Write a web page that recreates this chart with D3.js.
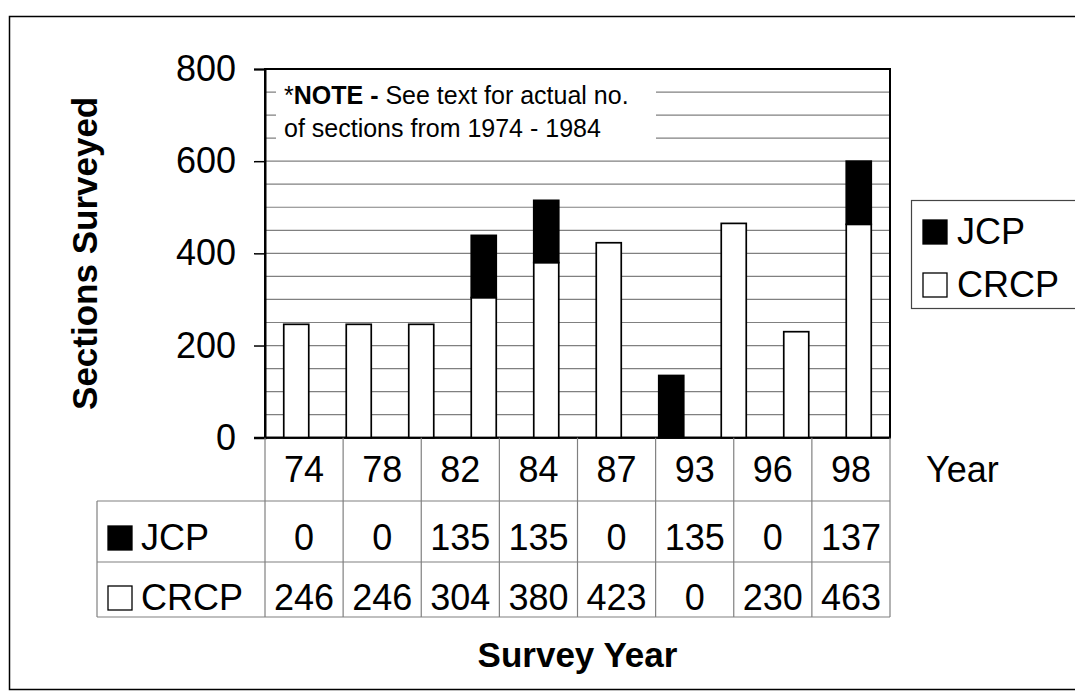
<!DOCTYPE html>
<html>
<head>
<meta charset="utf-8">
<script src="https://cdn.jsdelivr.net/npm/d3@7"></script>
<style>
  body { margin: 0; background: #fff; }
  svg text { font-family: "Liberation Sans", Arial, sans-serif; fill: #000; }
</style>
</head>
<body>
<script>
// bars as drawn in the chart (10 slots)
const barCRCP = [246, 246, 246, 304, 380, 423, 0, 465, 230, 463]
const barJCP = [0, 0, 0, 135, 135, 0, 135, 0, 0, 137]

// data table under the chart
const years = ["74", "78", "82", "84", "87", "93", "96", "98"]
const tableJCP = [0, 0, 135, 135, 0, 135, 0, 137]
const tableCRCP = [246, 246, 304, 380, 423, 0, 230, 463]
const series = ["JCP", "CRCP"]
const yTicks = [0, 200, 400, 600, 800]

const width = 1075, height = 698
const plot = {left: 265, right: 890, top: 69, bottom: 437.7}

const svg = d3.select("body").append("svg")
  .attr("width", width)
  .attr("height", height)

// outer frame
svg.append("rect")
  .attr("x", 9.5).attr("y", 16.5)
  .attr("width", 1080).attr("height", 673)
  .attr("fill", "none").attr("stroke", "#000").attr("stroke-width", 1.5)

const y = d3.scaleLinear().domain([0, 800]).range([plot.bottom, plot.top])
const x = d3.scaleBand()
  .domain(d3.range(barCRCP.length))
  .range([plot.left, plot.right])
  .paddingInner(0.6).paddingOuter(0.3)
const col = d3.scaleBand().domain(years).range([plot.left, plot.right])

// gridlines every 50
svg.append("g").selectAll("line")
  .data(y.ticks(16).filter(d => d > 0 && d < 800))
  .enter().append("line")
  .attr("x1", plot.left).attr("x2", plot.right)
  .attr("y1", d => y(d)).attr("y2", d => y(d))
  .attr("stroke", "#808080").attr("stroke-width", 1.2)

// note box over the gridlines
svg.append("rect")
  .attr("x", 276).attr("y", 80).attr("width", 380).attr("height", 70)
  .attr("fill", "#fff")
const note = svg.append("text").attr("x", 284).attr("y", 104).style("font-size", "25px")
note.append("tspan").text("*")
note.append("tspan").style("font-weight", "bold").text("NOTE -")
note.append("tspan").text(" See text for actual no.")
svg.append("text").attr("x", 284).attr("y", 137).style("font-size", "25px")
  .text("of sections from 1974 - 1984")

// plot area border
svg.append("rect")
  .attr("x", plot.left).attr("y", plot.top)
  .attr("width", plot.right - plot.left).attr("height", plot.bottom - plot.top)
  .attr("fill", "none").attr("stroke", "#000").attr("stroke-width", 2)

// bars: CRCP at bottom (white), JCP on top (black)
const bars = svg.append("g")
bars.selectAll(".crcp")
  .data(barCRCP.map((v, i) => ({i: i, v: v})).filter(d => d.v > 0))
  .enter().append("rect")
  .attr("class", "crcp")
  .attr("x", d => x(d.i)).attr("width", x.bandwidth())
  .attr("y", d => y(d.v)).attr("height", d => y(0) - y(d.v))
  .attr("fill", "#fff").attr("stroke", "#000").attr("stroke-width", 1.7)
bars.selectAll(".jcp")
  .data(barJCP.map((v, i) => ({i: i, v: v, b: barCRCP[i]})).filter(d => d.v > 0))
  .enter().append("rect")
  .attr("class", "jcp")
  .attr("x", d => x(d.i)).attr("width", x.bandwidth())
  .attr("y", d => y(d.b + d.v)).attr("height", d => y(d.b) - y(d.b + d.v))
  .attr("fill", "#000").attr("stroke", "#000").attr("stroke-width", 1.7)

// y axis
const yAxis = d3.axisLeft(y).tickValues(yTicks).tickSize(11).tickPadding(18)
const ya = svg.append("g")
  .attr("transform", "translate(" + plot.left + ",0)")
  .call(yAxis)
ya.select(".domain").attr("stroke-width", 2)
ya.selectAll(".tick line").attr("stroke-width", 1.5)
ya.selectAll(".tick text")
  .style("font-size", "36px")
  .style("font-family", "Liberation Sans, Arial, sans-serif")
  .attr("fill", "#000")

// x baseline
svg.append("line")
  .attr("x1", plot.left - 11).attr("x2", plot.right)
  .attr("y1", y(0)).attr("y2", y(0))
  .attr("stroke", "#000").attr("stroke-width", 2)

// axis title
svg.append("text")
  .attr("transform", "translate(97," + ((plot.top + plot.bottom) / 2) + ") rotate(-90)")
  .attr("text-anchor", "middle")
  .style("font-size", "35px").style("font-weight", "bold")
  .text("Sections Surveyed")

// data table
const rows = [plot.bottom, 501, 562, 617]
const tableLeft = 97
const grid = svg.append("g").attr("stroke", "#808080").attr("stroke-width", 1.2)
// horizontal lines
grid.append("line").attr("x1", tableLeft).attr("x2", plot.right).attr("y1", rows[1]).attr("y2", rows[1])
grid.append("line").attr("x1", tableLeft).attr("x2", plot.right).attr("y1", rows[2]).attr("y2", rows[2])
grid.append("line").attr("x1", tableLeft).attr("x2", plot.right).attr("y1", rows[3]).attr("y2", rows[3])
grid.append("line").attr("x1", tableLeft).attr("x2", tableLeft).attr("y1", rows[1]).attr("y2", rows[3])
// column lines
grid.selectAll(".colline")
  .data(years.map(d => col(d)).concat([plot.right]))
  .enter().append("line")
  .attr("x1", d => d).attr("x2", d => d)
  .attr("y1", rows[0]).attr("y2", rows[3])

// header row
svg.append("g").selectAll("text")
  .data(years).enter().append("text")
  .attr("x", d => col(d) + col.bandwidth() / 2)
  .attr("y", 482)
  .attr("text-anchor", "middle")
  .style("font-size", "36px")
  .text(d => d)
svg.append("text").attr("x", 926).attr("y", 482).style("font-size", "36px").text("Year")

// value rows
const tableRows = [
  {name: series[0], values: tableJCP, fill: "#000", base: 550},
  {name: series[1], values: tableCRCP, fill: "#fff", base: 610}
]
tableRows.forEach(function(r) {
  svg.append("rect")
    .attr("x", 108).attr("y", r.base - 24).attr("width", 24).attr("height", 24)
    .attr("fill", r.fill).attr("stroke", "#000").attr("stroke-width", 1.3)
  svg.append("text").attr("x", 141).attr("y", r.base)
    .style("font-size", "36px").text(r.name)
  svg.append("g").selectAll("text")
    .data(r.values).enter().append("text")
    .attr("x", (d, i) => col(years[i]) + col.bandwidth() / 2)
    .attr("y", r.base)
    .attr("text-anchor", "middle")
    .style("font-size", "36px")
    .text(d => d)
})

svg.append("text")
  .attr("x", (plot.left + plot.right) / 2).attr("y", 667)
  .attr("text-anchor", "middle")
  .style("font-size", "35px").style("font-weight", "bold")
  .text("Survey Year")

// legend
const legend = svg.append("g")
legend.append("rect")
  .attr("x", 911.5).attr("y", 200.5).attr("width", 200).attr("height", 108)
  .attr("fill", "#fff").attr("stroke", "#444").attr("stroke-width", 1.2)
const legendItems = [{name: series[0], fill: "#000", base: 244}, {name: series[1], fill: "#fff", base: 297}]
legend.selectAll("g.item")
  .data(legendItems).enter().append("g").attr("class", "item")
  .each(function(d) {
    const g = d3.select(this)
    g.append("rect").attr("x", 923).attr("y", d.base - 24).attr("width", 24).attr("height", 24)
      .attr("fill", d.fill).attr("stroke", "#000").attr("stroke-width", 1.3)
    g.append("text").attr("x", 957).attr("y", d.base).style("font-size", "36px").text(d.name)
  })
</script>
</body>
</html>
